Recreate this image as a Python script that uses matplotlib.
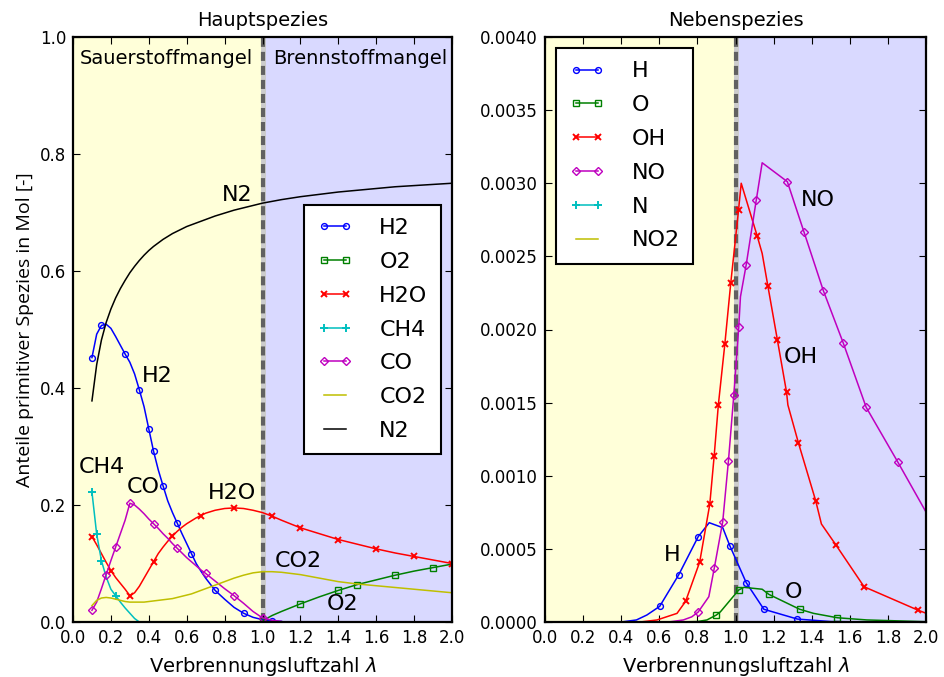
import numpy as np
import matplotlib
matplotlib.use("Agg")
import matplotlib.pyplot as plt
from matplotlib.lines import Line2D
from matplotlib.ticker import FormatStrFormatter, MultipleLocator

# ---------------- data: Hauptspezies (mole fractions) ----------------
lam_haupt = [0.1, 0.125, 0.15, 0.175, 0.2, 0.225, 0.25, 0.275, 0.3, 0.325, 0.35, 0.375,
             0.4, 0.425, 0.45, 0.475, 0.5, 0.525, 0.55, 0.575, 0.6, 0.625, 0.65, 0.675,
             0.7, 0.75, 0.8, 0.85, 0.9, 0.95, 1.0, 1.05, 1.1,
             1.2, 1.3, 1.4, 1.5, 1.6, 1.7, 1.8, 1.9, 2.0]
h2 = [0.452, 0.492, 0.507, 0.509, 0.502, 0.488, 0.473, 0.458, 0.444, 0.424, 0.397, 0.368,
      0.33, 0.292, 0.26, 0.233, 0.207, 0.187, 0.169, 0.151, 0.134, 0.117, 0.1, 0.087,
      0.075, 0.054, 0.039, 0.025, 0.015, 0.008, 0.004, 0.002, 0.001]
o2 = [0.002, 0.011, 0.018, 0.031, 0.043, 0.054, 0.064, 0.072, 0.080, 0.087, 0.093, 0.099]
h2o = [0.146, 0.132, 0.117, 0.102, 0.088, 0.076, 0.066, 0.056, 0.045, 0.05, 0.061, 0.075,
       0.089, 0.103, 0.117, 0.128, 0.138, 0.147, 0.155, 0.162, 0.168, 0.173, 0.178, 0.182,
       0.186, 0.191, 0.194, 0.195, 0.194, 0.191, 0.187, 0.181, 0.174,
       0.161, 0.151, 0.141, 0.133, 0.125, 0.118, 0.112, 0.106, 0.1]
ch4 = [0.222, 0.15, 0.105, 0.077, 0.056, 0.045, 0.034, 0.024, 0.015, 0.006, 0.0]
co = [0.02, 0.034, 0.057, 0.081, 0.105, 0.128, 0.151, 0.174, 0.203, 0.2, 0.193, 0.185,
      0.176, 0.168, 0.16, 0.151, 0.143, 0.134, 0.126, 0.118, 0.11, 0.103, 0.096, 0.089,
      0.083, 0.07, 0.057, 0.045, 0.032, 0.018, 0.007, 0.003, 0.001]
co2 = [0.028, 0.037, 0.041, 0.042, 0.041, 0.039, 0.037, 0.035, 0.034, 0.034, 0.034, 0.034,
       0.035, 0.036, 0.037, 0.038, 0.039, 0.04, 0.042, 0.044, 0.046, 0.048, 0.051, 0.054,
       0.057, 0.063, 0.069, 0.075, 0.08, 0.084, 0.086, 0.086, 0.085,
       0.081, 0.075, 0.069, 0.065, 0.062, 0.059, 0.056, 0.053, 0.05]
n2 = [0.378, 0.44, 0.482, 0.512, 0.535, 0.554, 0.57, 0.584, 0.597, 0.608, 0.618, 0.627,
      0.635, 0.642, 0.648, 0.654, 0.659, 0.664, 0.668, 0.672, 0.676, 0.679, 0.682, 0.685,
      0.688, 0.694, 0.699, 0.704, 0.708, 0.712, 0.716, 0.719, 0.722,
      0.727, 0.731, 0.735, 0.738, 0.741, 0.744, 0.746, 0.748, 0.75]

# ---------------- data: Nebenspezies (values in 1e-3 mol) ----------------
lam_h = [0.4, 0.48, 0.535, 0.602, 0.702, 0.804, 0.862, 0.933, 0.97, 1.056, 1.149, 1.325,
         1.5, 1.7]
h_e3 = [0.0, 0.014, 0.048, 0.107, 0.323, 0.583, 0.679, 0.645, 0.522, 0.27, 0.087, 0.02,
        0.003, 0.0]
lam_o = [0.7, 0.8, 0.85, 0.9, 0.921, 1.017, 1.044, 1.14, 1.175, 1.337, 1.41, 1.535,
         1.69, 2.0]
o_e3 = [0.0, 0.003, 0.014, 0.048, 0.07, 0.219, 0.237, 0.224, 0.189, 0.087, 0.059, 0.029,
        0.014, 0.002]
lam_oh = [0.5, 0.588, 0.693, 0.738, 0.812, 0.865, 0.888, 0.91, 0.944, 0.975, 1.016, 1.03,
          1.114, 1.14, 1.17, 1.22, 1.268, 1.275, 1.33, 1.421, 1.451, 1.526, 1.675, 1.956,
          2.0]
oh_e3 = [0.0, 0.014, 0.059, 0.141, 0.41, 0.805, 1.135, 1.485, 1.9, 2.316, 2.817, 3.0,
         2.639, 2.52, 2.297, 1.928, 1.571, 1.484, 1.226, 0.829, 0.67, 0.529, 0.241, 0.082,
         0.06]
lam_no = [0.65, 0.726, 0.77, 0.804, 0.86, 0.889, 0.933, 0.963, 0.991, 1.017, 1.026, 1.056,
          1.109, 1.14, 1.272, 1.36, 1.461, 1.565, 1.686, 1.851, 2.0]
no_e3 = [0.0, 0.014, 0.035, 0.068, 0.173, 0.371, 0.686, 1.103, 1.55, 2.015, 2.224, 2.441,
         2.885, 3.14, 3.011, 2.665, 2.266, 1.91, 1.468, 1.096, 0.752]
lam_n = [0.1, 0.5, 1.0, 1.5, 2.0]
n_e3 = [0.0, 0.0, 0.0, 0.0, 0.0]
no2_e3 = [0.0, 0.0, 0.0, 0.0, 0.0]

x_ticks = [0.0, 0.2, 0.4, 0.6, 0.8, 1.0, 1.2, 1.4, 1.6, 1.8, 2.0]

# ---------------- style ----------------
plt.rcParams["font.family"] = ["DejaVu Sans"]
plt.rcParams["lines.scale_dashes"] = False
plt.rcParams["xtick.direction"] = "in"
plt.rcParams["ytick.direction"] = "in"
plt.rcParams["xtick.top"] = True
plt.rcParams["ytick.right"] = True

fig = plt.figure(figsize=(9.44, 6.77), dpi=100, facecolor="white")
W, H = 944.0, 677.0
ax1 = fig.add_axes([73 / W, 1 - 622 / H, (452 - 73) / W, (622 - 37) / H])
ax2 = fig.add_axes([545 / W, 1 - 622 / H, (926 - 545) / W, (622 - 37) / H])

blue, green, red = (0, 0, 1), (0, 0.5, 0), (1, 0, 0)
cyan, mag, oliv = (0, 0.75, 0.75), (0.75, 0, 0.75), (0.75, 0.75, 0)
LW = 1.1


def decorate(ax):
    ax.axvspan(0, 1, facecolor=(1, 1, 0), alpha=0.15, lw=0, zorder=0)
    ax.axvspan(1, 2, facecolor=(0, 0, 1), alpha=0.15, lw=0, zorder=0)
    ax.axvline(1.0, color="0.8", lw=3.6, zorder=1)
    vl = ax.axvline(1.0, color="0.38", lw=3.0, zorder=1)
    vl.set_dashes((6.5, 3.6))
    ax.set_xlim(0, 2)
    ax.set_xticks(x_ticks)
    ax.xaxis.set_major_formatter(FormatStrFormatter("%.1f"))
    ax.tick_params(labelsize=12, length=5, width=0.8, pad=5)
    for s in ax.spines.values():
        s.set_linewidth(1.6)
    ax.set_xlabel(r"Verbrennungsluftzahl $\lambda$", fontsize=14, labelpad=6)


def mk(marker, color):
    if marker == "x":
        return dict(marker="x", ms=4.5, mew=1.4, markeredgecolor=color)
    if marker == "+":
        return dict(marker="+", ms=6, mew=1.4, markeredgecolor=color)
    size = {"o": 4.2, "s": 3.8, "D": 4.0}[marker]
    return dict(marker=marker, ms=size, mew=1.0, mfc="none", markeredgecolor=color)


leg_kw = dict(fontsize=16, numpoints=2, handlelength=1.6, handletextpad=1.2,
              borderpad=0.6, labelspacing=0.62, fancybox=False, framealpha=1,
              edgecolor="k", borderaxespad=0.5)
lab_kw = dict(fontsize=16, ha="center", va="center")

# ---------------- left: Hauptspezies ----------------
decorate(ax1)
ev = 0.052
ax1.plot(lam_haupt[:len(h2)], h2, color=blue, lw=LW, markevery=ev, label="H2",
         **mk("o", blue))
ax1.plot(lam_haupt[30:], o2, color=green, lw=LW, markevery=ev, label="O2",
         **mk("s", green))
ax1.plot(lam_haupt, h2o, color=red, lw=LW, markevery=ev, label="H2O", **mk("x", red))
ax1.plot(lam_haupt[:len(ch4)], ch4, color=cyan, lw=LW, markevery=ev, label="CH4",
         **mk("+", cyan))
ax1.plot(lam_haupt[:len(co)], co, color=mag, lw=LW, markevery=ev, label="CO",
         **mk("D", mag))
ax1.plot(lam_haupt, co2, color=oliv, lw=LW, label="CO2")
ax1.plot(lam_haupt, n2, color="k", lw=LW, label="N2")

ax1.set_ylim(0, 1.0)
ax1.yaxis.set_major_locator(MultipleLocator(0.2))
ax1.yaxis.set_major_formatter(FormatStrFormatter("%.1f"))
ax1.set_title("Hauptspezies", fontsize=14, pad=8)
ax1.set_ylabel("Anteile primitiver Spezies in Mol [-]", fontsize=14,
               family=["Open Sans", "DejaVu Sans"], labelpad=4)

ax1.text(0.868, 0.73, "N2", **lab_kw)
ax1.text(0.445, 0.42, "H2", **lab_kw)
ax1.text(0.151, 0.265, "CH4", **lab_kw)
ax1.text(0.37, 0.23, "CO", **lab_kw)
ax1.text(0.839, 0.221, "H2O", **lab_kw)
ax1.text(1.188, 0.105, "CO2", **lab_kw)
ax1.text(1.425, 0.031, "O2", **lab_kw)
ax1.text(0.495, 0.964, "Sauerstoffmangel", fontsize=14, ha="center", va="center")
ax1.text(1.516, 0.964, "Brennstoffmangel", fontsize=14, ha="center", va="center")

lg1 = ax1.legend(loc="center right", **leg_kw)
lg1.get_frame().set_linewidth(1.5)

# ---------------- right: Nebenspezies ----------------
decorate(ax2)
e3 = 1e-3
ax2.plot(lam_h, np.array(h_e3) * e3, color=blue, lw=LW,
         markevery=[3, 4, 5, 8, 9, 10, 11], **mk("o", blue))
ax2.plot(lam_o, np.array(o_e3) * e3, color=green, lw=LW,
         markevery=[3, 5, 8, 9, 11], **mk("s", green))
ax2.plot(lam_oh, np.array(oh_e3) * e3, color=red, lw=LW,
         markevery=[3, 4, 5, 6, 7, 8, 9, 10, 12, 14, 15, 16, 18, 19, 21, 22, 23],
         **mk("x", red))
ax2.plot(lam_no, np.array(no_e3) * e3, color=mag, lw=LW,
         markevery=[3, 5, 6, 7, 8, 9, 11, 12, 14, 15, 16, 17, 18, 19], **mk("D", mag))
ax2.plot(lam_n, np.array(n_e3) * e3, color=cyan, lw=LW)
ax2.plot(lam_n, np.array(no2_e3) * e3, color=oliv, lw=LW)

ax2.set_ylim(0, 0.004)
ax2.yaxis.set_major_locator(MultipleLocator(0.0005))
ax2.yaxis.set_major_formatter(FormatStrFormatter("%.4f"))
ax2.set_title("Nebenspezies", fontsize=14, pad=8)

ax2.text(1.434, 2.885e-3, "NO", **lab_kw)
ax2.text(1.344, 1.809e-3, "OH", **lab_kw)
ax2.text(0.668, 0.458e-3, "H", **lab_kw)
ax2.text(1.307, 0.203e-3, "O", **lab_kw)

handles = [Line2D([], [], color=blue, lw=LW, **mk("o", blue)),
           Line2D([], [], color=green, lw=LW, **mk("s", green)),
           Line2D([], [], color=red, lw=LW, **mk("x", red)),
           Line2D([], [], color=mag, lw=LW, **mk("D", mag)),
           Line2D([], [], color=cyan, lw=LW, **mk("+", cyan)),
           Line2D([], [], color=oliv, lw=LW)]
lg2 = ax2.legend(handles, ["H", "O", "OH", "NO", "N", "NO2"], loc="upper left", **leg_kw)
lg2.get_frame().set_linewidth(1.5)

fig.savefig("out.png", dpi=100, facecolor="white")
